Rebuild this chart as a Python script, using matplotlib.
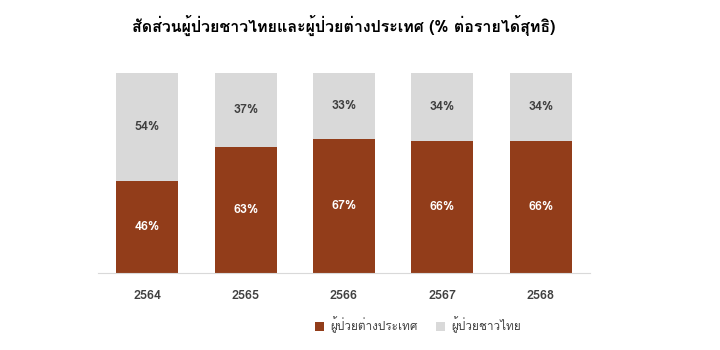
import numpy as np
import matplotlib
matplotlib.use("Agg")
import matplotlib.pyplot as plt
from matplotlib import font_manager
from matplotlib.ft2font import FT2Font

years = ["2564", "2565", "2566", "2567", "2568"]
foreign = [46, 63, 67, 66, 66]
thai = [54, 37, 33, 34, 34]
series_names = ["ผู้ป่วยต่างประเทศ", "ผู้ป่วยชาวไทย"]
title = "สัดส่วนผู้ป่วยชาวไทยและผู้ป่วยต่างประเทศ (% ต่อรายได้สุทธิ)"

# find an installed font that has Thai glyphs
thai_font = None
for f in font_manager.fontManager.ttflist:
    try:
        cmap = FT2Font(f.fname).get_charmap()
    except Exception:
        continue
    if 0x0E2A in cmap and 0x0E1C in cmap:
        thai_font = f.name
        break
fams = [thai_font, "DejaVu Sans"] if thai_font else ["DejaVu Sans"]
plt.rcParams["font.family"] = fams

brown = "#923D1A"
gray = "#D9D9D9"
txt = "#404040"

fig = plt.figure(figsize=(7.2, 3.5), dpi=100)
ax = fig.add_axes([98/720, 77/350, 492/720, 200/350])
x = np.arange(len(years))
w = 0.63
ax.bar(x, foreign, w, color=brown, label=series_names[0])
ax.bar(x, thai, w, bottom=foreign, color=gray, label=series_names[1])

for i in range(len(years)):
    ax.text(x[i], foreign[i] / 2, f"{foreign[i]}%", ha="center", va="center",
            color="white", fontsize=9, fontweight="bold")
    ax.text(x[i], foreign[i] + thai[i] / 2, f"{thai[i]}%", ha="center", va="center",
            color=txt, fontsize=9, fontweight="bold")

ax.set_xlim(-0.5, len(years) - 0.5)
ax.set_ylim(0, 100)
ax.set_xticks(x)
ax.set_xticklabels(years, fontsize=9, fontweight="bold", color=txt)
ax.tick_params(axis="x", length=0, pad=12)
ax.set_yticks([])
for s in ["top", "right", "left"]:
    ax.spines[s].set_visible(False)
ax.spines["bottom"].set_color("#D9D9D9")

fig.text(344/720, 1 - 25/350, title, ha="center", va="center",
         fontsize=11.5, fontweight="bold", color="black")

fig.legend(loc="center", bbox_to_anchor=(418/720, 1 - 325/350), ncol=2,
           frameon=False, fontsize=8.5, handlelength=0.75, handleheight=0.75,
           columnspacing=1.6, handletextpad=0.5, labelcolor=txt)

fig.savefig("out.png", dpi=100)
